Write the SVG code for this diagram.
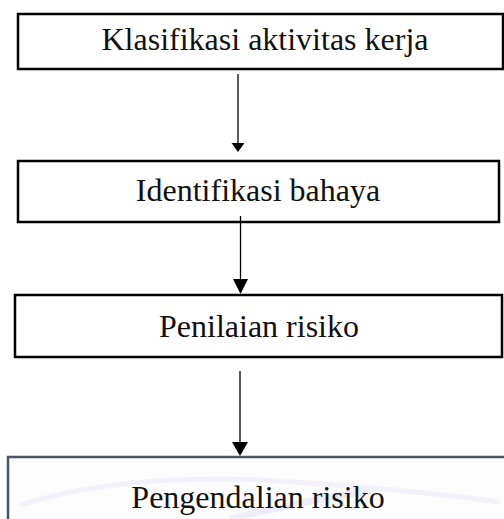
<svg xmlns="http://www.w3.org/2000/svg" width="504" height="519" viewBox="0 0 504 519">
<style>
.box{fill:#fff;stroke:#000;stroke-width:2.5}
.lbl{font-family:"Liberation Serif","Times New Roman",serif;font-size:32px;fill:#111;text-anchor:middle}
.con{stroke:#000;stroke-width:1.3;fill:none}
.arr{fill:#000}
</style>
<rect width="504" height="519" fill="#fff"/>
<g id="n1">
<rect class="box" x="18" y="14" width="485" height="55"/>
<text class="lbl" x="265" y="50">Klasifikasi aktivitas kerja</text>
</g>
<g id="n2">
<rect class="box" x="18" y="161" width="481" height="61"/>
<text class="lbl" x="258" y="201">Identifikasi bahaya</text>
</g>
<g id="n3">
<rect class="box" x="15" y="295" width="487" height="62"/>
<text class="lbl" x="259" y="337">Penilaian risiko</text>
</g>
<g id="n4">
<rect x="8" y="457" width="510" height="80" fill="#fdfdfe" stroke="#4a5563" stroke-width="2.5"/>
<path d="M20,505 Q120,474 260,480 Q400,488 500,502" fill="none" stroke="#f3f2fa" stroke-width="5"/>
<path d="M230,519 Q300,502 370,490" fill="none" stroke="#eeedf8" stroke-width="7"/>
<text class="lbl" x="258" y="508">Pengendalian risiko</text>
</g>
<g id="connectors">
<line class="con" x1="238" y1="74" x2="238" y2="143"/>
<path class="arr" d="M231.5,143 L244.5,143 L238,152 Z"/>
<line class="con" x1="240.5" y1="216" x2="240.5" y2="279"/>
<path class="arr" d="M233,279 L248,279 L240.5,294 Z"/>
<line class="con" x1="240" y1="371" x2="240" y2="442"/>
<path class="arr" d="M232,442 L248,442 L240,456 Z"/>
</g>
</svg>
